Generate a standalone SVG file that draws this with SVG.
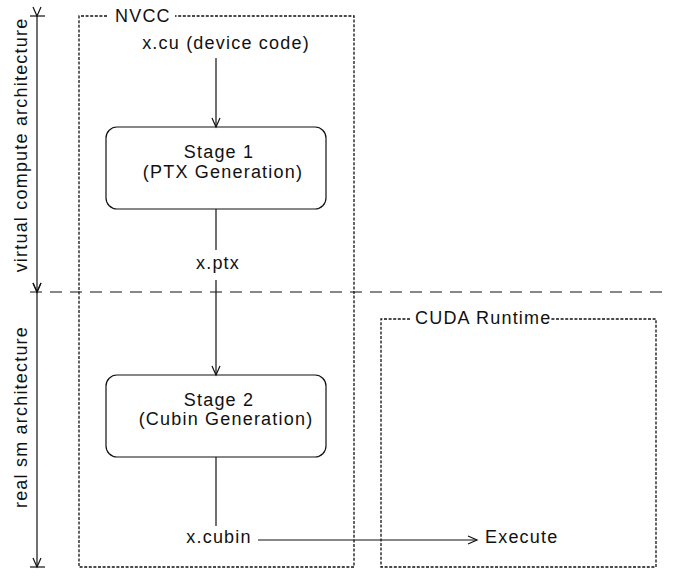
<svg xmlns="http://www.w3.org/2000/svg" width="677" height="579" viewBox="0 0 677 579">
<style>
text{font-family:"Liberation Sans",Arial,sans-serif;font-size:18px;fill:#111;letter-spacing:1.2px}
.c{text-anchor:middle}
.frame{fill:none;stroke:#111;stroke-width:1.3;stroke-dasharray:3 1.6}
.box{fill:#fff;stroke:#111;stroke-width:1.2}
.ln{fill:none;stroke:#111;stroke-width:1.2}
</style>
<defs>
<marker id="ah" markerWidth="12" markerHeight="12" refX="10" refY="5" orient="auto" markerUnits="userSpaceOnUse">
<path d="M1,1 L10,5 L1,9" fill="none" stroke="#111" stroke-width="1.2"/>
</marker>
</defs>
<rect width="677" height="579" fill="#fff"/>
<g id="nvcc">
<path class="frame" d="M107,16 H79 V567 H354 V16 H175"/>
<text x="115" y="22">NVCC</text>
</g>
<g id="runtime">
<path class="frame" d="M410,319 H381 V567 H656 V319 H550"/>
<text x="415" y="324">CUDA Runtime</text>
</g>
<g id="xcu"><text class="c" x="226" y="49">x.cu (device code)</text></g>
<g id="stage1">
<rect class="box" x="106" y="127" width="220" height="82" rx="11"/>
<text class="c" x="219" y="158">Stage 1</text>
<text class="c" x="223" y="178">(PTX Generation)</text>
</g>
<g id="xptx"><text class="c" x="218" y="269">x.ptx</text></g>
<g id="stage2">
<rect class="box" x="106" y="375" width="220" height="82" rx="11"/>
<text class="c" x="219" y="406">Stage 2</text>
<text class="c" x="226" y="425">(Cubin Generation)</text>
</g>
<g id="xcubin"><text class="c" x="219" y="543">x.cubin</text></g>
<g id="execute"><text x="485" y="543">Execute</text></g>
<g id="axis">
<line x1="30" y1="292" x2="668" y2="292" stroke="#111" stroke-width="1.2" stroke-dasharray="12 8"/>
<line x1="30" y1="16" x2="45" y2="16" class="ln"/>
<line x1="30" y1="567" x2="45" y2="567" class="ln"/>
<line class="ln" x1="37" y1="16" x2="37" y2="292" marker-start="url(#ah)" marker-end="url(#ah)"/>
<line class="ln" x1="37" y1="292" x2="37" y2="567" marker-start="url(#ah)" marker-end="url(#ah)"/>
<text class="c" transform="translate(27,145) rotate(-90)">virtual compute architecture</text>
<text class="c" transform="translate(27,417) rotate(-90)">real sm architecture</text>
</g>
<g id="connectors">
<line class="ln" x1="216" y1="58" x2="216" y2="127" marker-end="url(#ah)"/>
<line class="ln" x1="216" y1="209" x2="216" y2="250"/>
<line class="ln" x1="216" y1="280" x2="216" y2="375" marker-end="url(#ah)"/>
<line class="ln" x1="216" y1="457" x2="216" y2="526"/>
<line class="ln" x1="258" y1="540" x2="477" y2="540" marker-end="url(#ah)"/>
</g>
</svg>
